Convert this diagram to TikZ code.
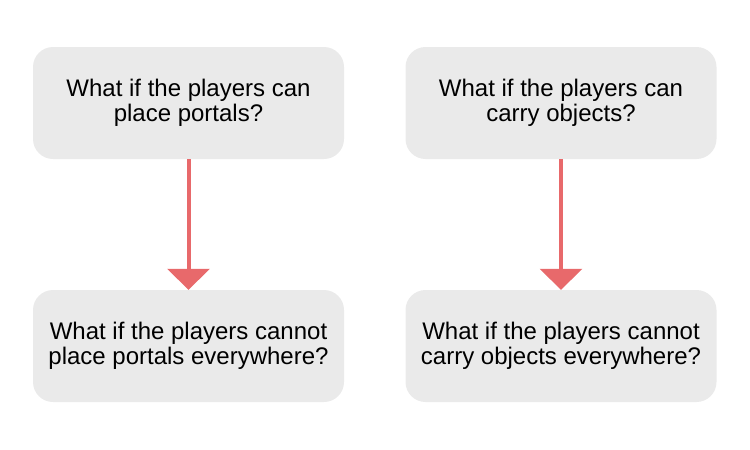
\documentclass[tikz,border=0pt]{standalone}
\usepackage{fontspec}
\setmainfont{Liberation Sans}
\usetikzlibrary{arrows.meta}
\definecolor{boxgray}{HTML}{EAEAEA}
\definecolor{arrowred}{HTML}{E8696B}
\tikzset{
  qbox/.style={fill=boxgray, rounded corners=20pt, minimum width=311pt,
    minimum height=112pt, align=center, inner sep=0pt,
    font=\fontsize{24}{25}\selectfont},
  qarrow/.style={draw=arrowred, line width=4pt,
    -{Triangle[width=42pt,length=21pt]}}
}
\begin{document}
\begin{tikzpicture}[x=1pt,y=-1pt]
    \useasboundingbox (0,0) rectangle (750,450);

    \node[qbox] (P1) at (188.5, 103) {What if the players can\\place portals?};
    \node[qbox] (P2) at (188.5, 346) {What if the players cannot\\place portals everywhere?};

    \node[qbox] (C1) at (561, 103) {What if the players can\\carry objects?};
    \node[qbox] (C2) at (561, 346) {What if the players cannot\\carry objects everywhere?};

    \draw[qarrow] (P1) -- (P2);
    \draw[qarrow] (C1) -- (C2);
  \end{tikzpicture}
\end{document}
